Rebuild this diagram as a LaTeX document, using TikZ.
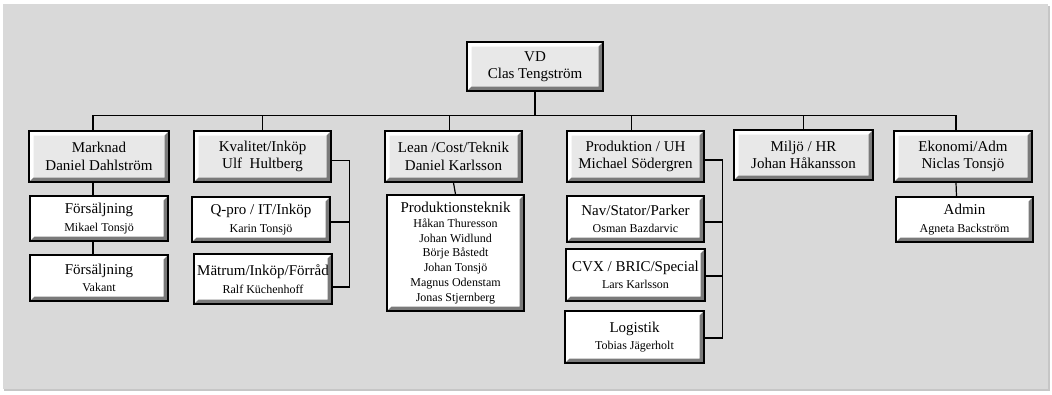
\documentclass[tikz,border=0pt]{standalone}
\usepackage{fontspec}
\setmainfont{Liberation Serif}
\usetikzlibrary{positioning}

\definecolor{panel}{HTML}{D9D9D9}
\definecolor{bevdark}{HTML}{7A7A7A}

\tikzset{
  bevel/.style={path picture={
      \fill[white] (path picture bounding box.north west) -- (path picture bounding box.north east)
        -- ([xshift=-4.5pt,yshift=-4.5pt]path picture bounding box.north east)
        -- ([xshift=4.5pt,yshift=-4.5pt]path picture bounding box.north west)
        -- ([xshift=4.5pt,yshift=4.5pt]path picture bounding box.south west)
        -- (path picture bounding box.south west) -- cycle;
      \fill[bevdark] (path picture bounding box.south east) -- (path picture bounding box.north east)
        -- ([xshift=-4.5pt,yshift=-4.5pt]path picture bounding box.north east)
        -- ([xshift=-4.5pt,yshift=4.5pt]path picture bounding box.south east)
        -- ([xshift=4.5pt,yshift=4.5pt]path picture bounding box.south west)
        -- (path picture bounding box.south west) -- cycle;
    }},
  headbox/.style={rectangle,draw,line width=1.5pt,fill=gray!18,bevel,align=center,
    inner sep=0pt,font=\fontsize{15}{17.5}\selectfont},
  subbox/.style={rectangle,draw,line width=1.5pt,fill=white,bevel,align=center,
    inner sep=0pt,font=\fontsize{15}{17.5}\selectfont},
  link/.style={line width=1.2pt},
}
\newcommand{\who}{\fontsize{12}{14.5}\selectfont}

\begin{document}
\begin{tikzpicture}[x=1pt,y=-1pt]
\useasboundingbox (0,0) rectangle (1052,394);
% panel
\fill[gray!45] (4,6) rectangle (1050,391);
\fill[panel] (2,4) rectangle (1048,389);
\draw[white,line width=0.8pt] (2.5,4) -- (2.5,389);

% top
\node [headbox,minimum width=136pt,minimum height=49pt] (vd) at (535,66.5) {VD\\Clas Tengström};

% departments
\node [headbox,minimum width=140pt,minimum height=51pt] (mark) at (99,156.5) {Marknad\\Daniel Dahlström};
\node [headbox,minimum width=137pt,minimum height=51pt] (kval) at (262.5,156.5) {Kvalitet/Inköp\\Ulf\ \ Hultberg};
\node [headbox,minimum width=137pt,minimum height=51pt] (lean) at (453.5,156.5) {Lean /Cost/Teknik\\Daniel Karlsson};
\node [headbox,minimum width=137pt,minimum height=51pt] (prod) at (635.5,156.5) {Produktion / UH\\Michael Södergren};
\node [headbox,minimum width=139pt,minimum height=50pt] (milj) at (803.5,155) {Miljö / HR\\Johan Håkansson};
\node [headbox,minimum width=138pt,minimum height=51pt] (ekon) at (963,156.5) {Ekonomi/Adm\\Niclas Tonsjö};

% groups
\node [subbox,minimum width=138pt,minimum height=45pt] (fs1) at (99,218.5) {Försäljning\\\who Mikael Tonsjö};
\node [subbox,minimum width=138pt,minimum height=46pt] (fs2) at (99,278) {Försäljning\\\who Vakant};
\node [subbox,minimum width=138pt,minimum height=45pt] (qpro) at (261,219.5) {Q-pro / IT/Inköp\\\who Karin Tonsjö};
\node [subbox,minimum width=138pt,minimum height=50pt] (matr) at (263,279) {Mätrum/Inköp/Förråd\\\who Ralf Küchenhoff};
\node [subbox,minimum width=137pt,minimum height=116pt,font=\fontsize{15}{14.7}\selectfont] (ptek) at (455.5,253)
  {Produktionsteknik\\\who Håkan Thuresson\\\who Johan Widlund\\\who Börje Båstedt\\\who Johan Tonsjö\\\who Magnus Odenstam\\\who Jonas Stjernberg};
\node [subbox,minimum width=137pt,minimum height=46pt] (nav) at (635.5,219) {Nav/Stator/Parker\\\who Osman Bazdarvic};
\node [subbox,minimum width=139pt,minimum height=52pt] (cvx) at (635.5,275) {CVX / BRIC/Special\\\who Lars Karlsson};
\node [subbox,minimum width=139pt,minimum height=52pt] (logi) at (634.5,337) {Logistik\\\who Tobias Jägerholt};
\node [subbox,minimum width=137pt,minimum height=45pt] (admn) at (964.5,219.5) {Admin\\\who Agneta Backström};

% connectors
\foreach \n/\s in {mark/-6,kval/0,lean/-4,prod/-4,milj/0,ekon/-7}
  \draw [link] (vd.south) -- ++(0,24) -| ([xshift=\s pt]\n.north);
\draw [link] ([xshift=-6pt]mark.south) -- ([xshift=-6pt]fs1.north);
\draw [link] ([xshift=-6pt]fs1.south) -- ([xshift=-6pt]fs2.north);
\draw [link] (lean.south) -- (ptek.north);
\draw [link] ([xshift=-7pt]ekon.south) -- ([xshift=-8pt]admn.north);
\draw [link] ([yshift=-4pt]kval.east) -- ++(18,0) coordinate (kb) |- ([yshift=-8pt]matr.east);
\draw [link] ([yshift=-2.5pt]qpro.east) -- ([yshift=-2.5pt]qpro.east -| kb);
\draw [link] ([yshift=-3.5pt]prod.east) -- ++(18,0) coordinate (pb) |- ([yshift=-1pt]logi.east);
\draw [link] ([yshift=-3pt]nav.east) -- ([yshift=-3pt]nav.east -| pb);
\draw [link] ([yshift=-1pt]cvx.east) -- ([yshift=-1pt]cvx.east -| pb);
\end{tikzpicture}
\end{document}
